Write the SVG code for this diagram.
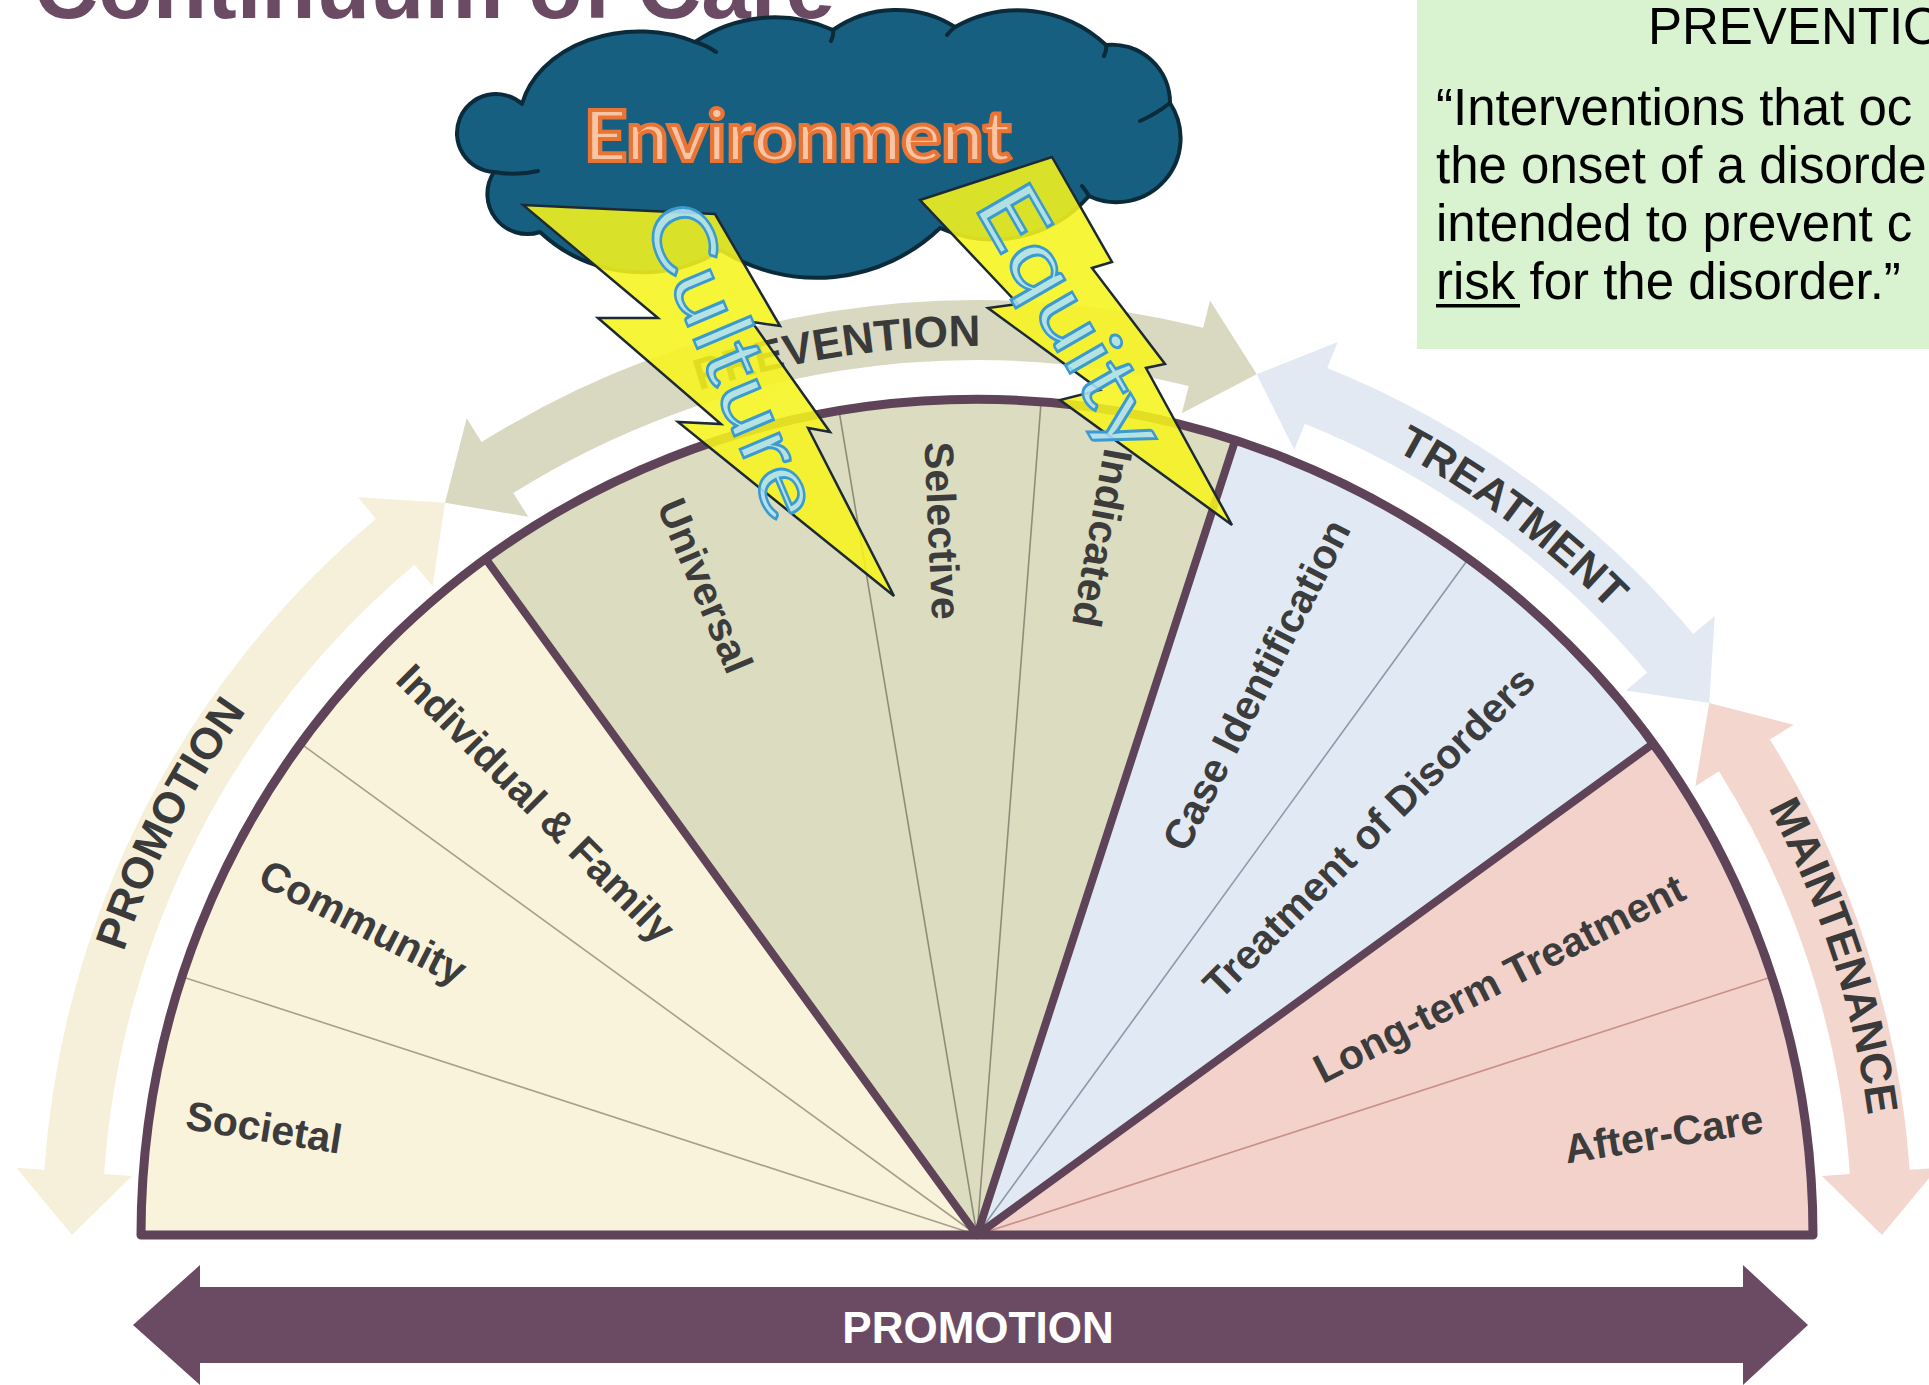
<svg xmlns="http://www.w3.org/2000/svg" width="1929" height="1385" viewBox="0 0 1929 1385">
  <defs>
    <style>
      .title{font-family:"Liberation Sans",Arial,sans-serif;font-weight:bold;font-size:89px;fill:#6b4a63}
      .box-text{font-family:"Liberation Sans",Arial,sans-serif;font-size:51px;fill:#000}
      .arc-label{font-family:"Liberation Sans",Arial,sans-serif;font-weight:bold;font-size:44px;fill:#3a3a3a}
      .seg-label{font-family:"Liberation Sans",Arial,sans-serif;font-weight:bold;font-size:41px;fill:#3c3c3c}
      .divider{stroke:#5f4358;stroke-width:8;stroke-linecap:round;fill:none}
      .thin{stroke-width:1.6;fill:none}
      .bolt{fill:#f6f41c;fill-opacity:0.88;stroke:#1d2a34;stroke-width:2.5;stroke-linejoin:miter}
      .word{font-family:Lato,"Open Sans",sans-serif;font-size:84px;fill:#ade0f5;fill-opacity:0.9;stroke:#3b9bd0;stroke-width:2.5}
      .crease{fill:none;stroke:#0b2b3b;stroke-width:4;stroke-linecap:round}
    </style>
    <path id="arc-promo" d="M78,1235 A899,899 0 0 1 448.6,507.7"/>
    <path id="arc-prev" d="M454.5,515.8 A889,889 0 0 1 1251.7,389.5"/>
    <path id="arc-treat" d="M1251.7,389.5 A889,889 0 0 1 1696.2,712.5"/>
    <path id="arc-maint" d="M1704.3,706.6 A899,899 0 0 1 1876,1235"/>
  </defs>

  <rect width="1929" height="1385" fill="#ffffff"/>

  <!-- heading, cut by the top edge -->
  <g id="title">
    <text class="title" x="34" y="18">Continuum of Care</text>
  </g>

  <!-- definition box -->
  <g id="definition">
    <rect x="1417" y="-5" width="520" height="354" fill="#d9f2d0"/>
    <text class="box-text" x="1648" y="44" font-size="50">PREVENTIO</text>
    <text class="box-text" x="1436" y="125">“Interventions that oc</text>
    <text class="box-text" x="1436" y="183">the onset of a disorde</text>
    <text class="box-text" x="1436" y="241">intended to prevent c</text>
    <text class="box-text" x="1436" y="299">risk for the disorder.”</text>
    <rect x="1436" y="304" width="84" height="3.5" fill="#000"/>
  </g>

  <!-- curved double arrows around the half wheel -->
  <g id="arc-arrows">
    <path id="arrow-promotion" fill="#f6f0da" d="M72,1235 L16.3,1167.8 L44.3,1169.8 A935,935 0 0 1 376.0,518.8 L358.0,497.3 L445.0,502.8 L432.6,586.2 L414.6,564.7 A875,875 0 0 0 104.1,1174.0 L132.1,1175.9 Z"/>
    <path id="arrow-prevention" fill="#d9d8c0" d="M445.0,502.8 L466.7,418.3 L481.5,442.1 A935,935 0 0 1 1203.2,327.8 L1210.0,300.6 L1256.7,374.3 L1181.9,413.2 L1188.7,386.0 A875,875 0 0 0 513.3,493.0 L528.2,516.7 Z"/>
    <path id="arrow-treatment" fill="#e2e9f2" d="M1256.7,374.3 L1337.7,342.1 L1327.3,368.1 A935,935 0 0 1 1693.2,634.0 L1714.7,616.0 L1709.2,703.0 L1625.8,690.6 L1647.3,672.6 A875,875 0 0 0 1304.8,423.7 L1294.3,449.7 Z"/>
    <path id="arrow-maintenance" fill="#f3d7ce" d="M1709.2,703.0 L1793.7,724.7 L1769.9,739.5 A935,935 0 0 1 1909.7,1169.8 L1937.7,1167.8 L1882,1235 L1821.9,1175.9 L1849.9,1174.0 A875,875 0 0 0 1719.0,771.3 L1695.3,786.2 Z"/>
    <text class="arc-label"><textPath href="#arc-promo" startOffset="50%" text-anchor="middle">PROMOTION</textPath></text>
    <text class="arc-label"><textPath href="#arc-prev" startOffset="50%" text-anchor="middle">PREVENTION</textPath></text>
    <text class="arc-label" font-size="42"><textPath href="#arc-treat" startOffset="52%" text-anchor="middle">TREATMENT</textPath></text>
    <text class="arc-label"><textPath href="#arc-maint" startOffset="50%" text-anchor="middle">MAINTENANCE</textPath></text>
  </g>

  <!-- half wheel: centre (977,1235), radius 836 -->
  <g id="wheel">
    <path id="sector-promotion" fill="#faf3dc" d="M977,1235 L141,1235 A836,836 0 0 1 485.6,558.7 Z"/>
    <path id="sector-prevention" fill="#dcdcc1" d="M977,1235 L485.6,558.7 A836,836 0 0 1 1235.3,439.9 Z"/>
    <path id="sector-treatment" fill="#e1eaf4" d="M977,1235 L1235.3,439.9 A836,836 0 0 1 1653.3,743.6 Z"/>
    <path id="sector-maintenance" fill="#f2d2ca" d="M977,1235 L1653.3,743.6 A836,836 0 0 1 1813,1235 Z"/>

    <path class="thin" stroke="#a89f8a" d="M977,1235 L181.9,976.7 M977,1235 L300.7,743.6"/>
    <path class="thin" stroke="#8e8d78" d="M977,1235 L839.0,410.5 M977,1235 L1041.1,401.5"/>
    <path class="thin" stroke="#8c97aa" d="M977,1235 L1468.4,558.7"/>
    <path class="thin" stroke="#c99088" d="M977,1235 L1772.1,976.7"/>

    <path class="divider" d="M977,1235 L485.6,558.7 M977,1235 L1235.3,439.9 M977,1235 L1653.3,743.6"/>
    <path d="M141,1235 A836,836 0 0 1 1813,1235 Z" fill="none" stroke="#5f4358" stroke-width="9" stroke-linejoin="round"/>

    <text class="seg-label" text-anchor="middle" dy="0.35em" transform="translate(264.1,1127.2) rotate(9)">Societal</text>
    <text class="seg-label" text-anchor="middle" dy="0.35em" transform="translate(363.1,922.2) rotate(27)">Community</text>
    <text class="seg-label" text-anchor="middle" dy="0.35em" transform="translate(536.3,803.2) rotate(45)">Individual &amp; Family</text>
    <text class="seg-label" text-anchor="middle" dy="0.35em" transform="translate(705.3,585.5) rotate(67.3)">Universal</text>
    <text class="seg-label" text-anchor="middle" dy="0.35em" transform="translate(942.6,530.8) rotate(87.5)">Selective</text>
    <text class="seg-label" text-anchor="middle" dy="0.35em" transform="translate(1102.4,538.2) rotate(100.5)">Indicated</text>
    <text class="seg-label" text-anchor="middle" dy="0.35em" transform="translate(1256.1,684.8) rotate(-63)">Case Identification</text>
    <text class="seg-label" text-anchor="middle" dy="0.35em" transform="translate(1368.8,832.1) rotate(-45)">Treatment of Disorders</text>
    <text class="seg-label" text-anchor="middle" dy="0.35em" font-size="42" transform="translate(1499.0,978.4) rotate(-27)">Long-term Treatment</text>
    <text class="seg-label" text-anchor="middle" dy="0.35em" transform="translate(1663.6,1133.6) rotate(-9)">After-Care</text>
  </g>

  <!-- straight double arrow under the wheel -->
  <g id="promotion-bar">
    <path fill="#6b4a63" d="M133,1325 L200,1265 L200,1287 L1743,1287 L1743,1265 L1808,1325 L1743,1385 L1743,1363 L200,1363 L200,1385 Z"/>
    <text x="978" y="1343" text-anchor="middle" font-family="'Liberation Sans',Arial,sans-serif" font-weight="bold" font-size="44" fill="#ffffff">PROMOTION</text>
  </g>

  <!-- storm cloud -->
  <g id="cloud">
    <path fill="#175f80" stroke="#0b2b3b" stroke-width="4" stroke-linejoin="round"
          d="M494,172 A39,39 0 1 1 522,104 A120,92 0 0 1 695,42 A141,141 0 0 1 833,30 A110,110 0 0 1 955,27 A128,128 0 0 1 1106,45 A58,58 0 0 1 1170,103 A64,64 0 0 1 1089,196 A128,128 0 0 1 940,228 A178,178 0 0 1 721,250 A150,150 0 0 1 540,232 A40,40 0 0 1 494,172 Z"/>
    <path class="crease" d="M494,172 Q517,176 538,171 M695,42 Q706,45 716,52 M833,30 Q834,35 831,41 M955,27 Q951,30 947,35 M1106,45 Q1107,50 1104,56 M1170,103 Q1156,114 1140,121 M1089,196 Q1086,191 1082,186"/>
    <text x="584" y="161" textLength="427" lengthAdjust="spacingAndGlyphs" font-family="Lato,'Open Sans',sans-serif" font-weight="bold" font-size="70" fill="#f8c6a6" stroke="#ea7434" stroke-width="4">Environment</text>
  </g>

  <!-- lightning bolts -->
  <g id="bolt-culture">
    <path class="bolt" d="M523,205 L715,214 L780,326 L752,322 L830,432 L808,428 L894,596 L678,422 L721,424 L598,318 L658,318 Z"/>
    <text class="word" text-anchor="middle" dy="0.35em" textLength="335" lengthAdjust="spacingAndGlyphs" transform="translate(734,360) rotate(67)">Culture</text>
  </g>
  <g id="bolt-equity">
    <path class="bolt" d="M920,200 L1052,157 L1112,262 L1092,268 L1165,364 L1146,368 L1232,525 L1060,400 L1100,390 L988,308 L1018,304 Z"/>
    <text class="word" text-anchor="middle" dy="0.35em" textLength="295" lengthAdjust="spacingAndGlyphs" transform="translate(1072,318) rotate(60)">Equity</text>
  </g>
</svg>
